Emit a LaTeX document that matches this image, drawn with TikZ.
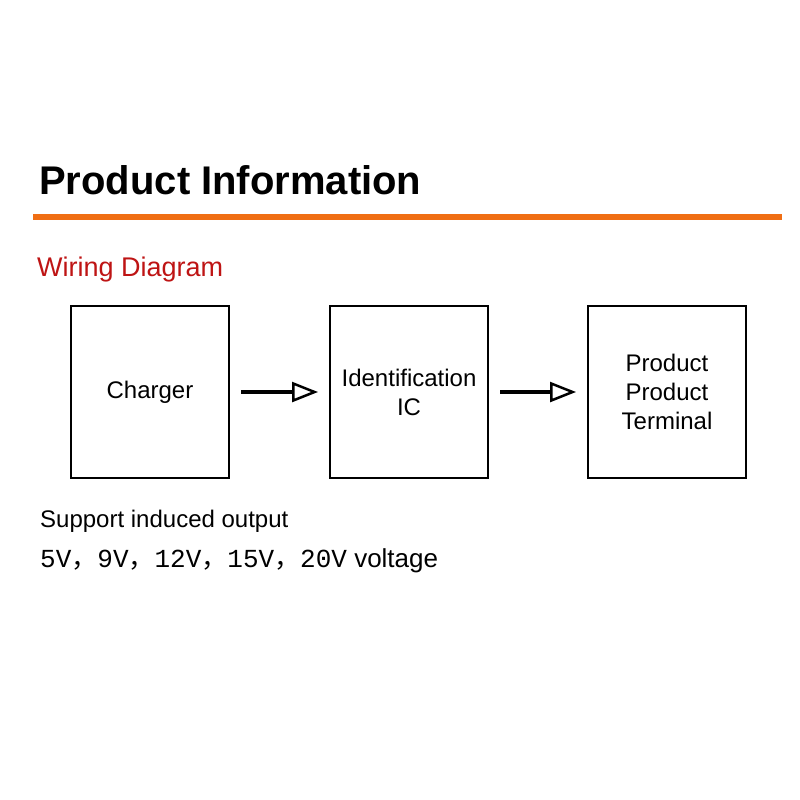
\documentclass[tikz,border=0pt]{standalone}
\usepackage{fontspec}
\setmainfont{Liberation Sans}
\setmonofont{Liberation Mono}
\newfontfamily\cjk{Noto Sans CJK SC}
\usetikzlibrary{arrows.meta,positioning}

\begin{document}
\begin{tikzpicture}[%
    x=1pt, y=-1pt,              % Work in picture pixels
    >={Triangle[open, length=26pt, width=20pt, line width=2.5pt]},
    ]
% -------------------------------------------------
% Box and connector styles
\tikzset{
  box/.style={draw, line width=2pt, minimum width=158pt, minimum height=172pt,
    align=center, font=\fontsize{24}{29}\selectfont},
  flow/.style={->, line width=4pt, shorten <=11pt, shorten >=11pt},
  note/.style={anchor=west, inner sep=0pt, font=\fontsize{24}{28}\selectfont}
}
\newcommand\fwc{{\cjk ，}}
\definecolor{barorange}{RGB}{240,110,20}
\definecolor{wirered}{RGB}{190,20,20}
\useasboundingbox (0,0) rectangle (800,800);
% -------------------------------------------------
% Heading
\node [anchor=west, inner sep=0pt, font=\fontsize{40}{44}\bfseries\selectfont]
  (title) at (39,180) {Product Information};
\coordinate (barl) at (33,217);
\coordinate (barr) at (782,217);
\draw [barorange, line width=6pt] (barl) -- (barr);
\node [note, text=wirered, font=\fontsize{27}{30}\selectfont] (wiring) at (37,270) {Wiring Diagram};
% -------------------------------------------------
% The three boxes
\node [box] (charger) at (150,392) {Charger};
\node [box, right=99pt of charger] (ident) {Identification\\IC};
\node [box, right=98pt of ident] (term) {Product\\Product\\Terminal};
\draw [flow] (charger) -- (ident);
\draw [flow] (ident) -- (term);
% -------------------------------------------------
% Notes below
\node [note] (support) at (40,521) {Support induced output};
\node [note, font=\fontsize{26}{30}\selectfont] (volts) at (40,561)
  {\ttfamily 5V\fwc 9V\fwc 12V\fwc 15V\fwc 20V\rmfamily\ voltage};
\end{tikzpicture}
\end{document}
